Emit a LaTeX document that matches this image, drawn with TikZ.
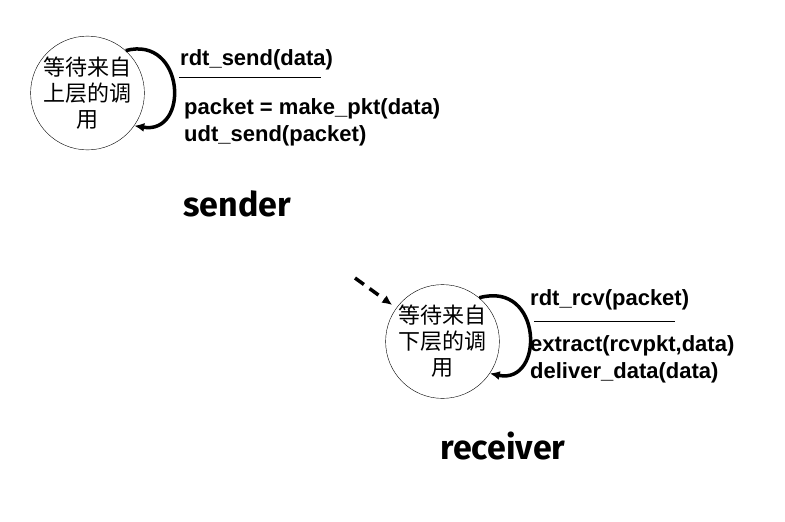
\documentclass[tikz,border=0pt]{standalone}
\usepackage{fontspec}
\setmainfont{Liberation Sans}
\newfontfamily\cjk{Noto Sans CJK SC}
\newfontfamily\titlefont{Fira Sans}
\usetikzlibrary{arrows.meta,calc,positioning}
\tikzset{
  state/.style={circle,draw,thin,minimum size=105pt,inner sep=0pt,align=center,
    font=\cjk\fontsize{22pt}{26pt}\selectfont},
  selfloop/.style={-{Latex[length=10pt,width=9pt]},line width=3.5pt},
  initedge/.style={-{Latex[length=10pt,width=9pt]},line width=3.5pt,dash pattern=on 11pt off 7pt,shorten >=5pt},
  event/.style={anchor=west,inner sep=0pt,font=\bfseries\fontsize{22pt}{25pt}\selectfont},
  action/.style={anchor=north west,inner sep=0pt,align=left,font=\bfseries\fontsize{22pt}{27pt}\selectfont},
  bar/.style={thin},
  role/.style={inner sep=0pt,font=\titlefont\bfseries\fontsize{34pt}{34pt}\selectfont}
}
\begin{document}
\begin{tikzpicture}[x=1pt,y=-1pt]
\useasboundingbox (0,0) rectangle (785,522);
% sender side
\node[state] (snd) at (87.5,93) {等待来自\\上层的调\\用};
\draw[selfloop] (snd.48) .. controls (185,35) and (190,135) .. (snd.-35);
\node[event] (sndev) at (180,60) {rdt\_send(data)};
\draw[bar] (179,77) -- (321,77);
\node[action] (sndact) at (184,98) {packet = make\_pkt(data)\\udt\_send(packet)};
\node[role] (sndname) at (237,204) {sender};
% receiver side
\node[state] (rcv) at (442.5,341.5) {等待来自\\下层的调\\用};
\coordinate (init) at (355,278);
\draw[initedge] (init) -- (rcv);
\draw[selfloop] (rcv.50) .. controls (543,280) and (545,385) .. (rcv.-34);
\node[event] (rcvev) at (530,300) {rdt\_rcv(packet)};
\draw[bar] (534,321) -- (675,321);
\node[action] (rcvact) at (530,335) {extract(rcvpkt,data)\\deliver\_data(data)};
\node[role] (rcvname) at (503,446) {receiver};
\end{tikzpicture}
\end{document}
